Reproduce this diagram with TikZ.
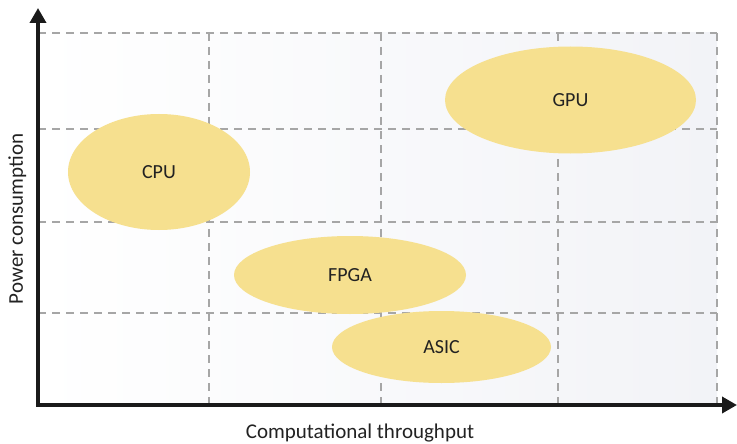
\documentclass[tikz,border=0pt]{standalone}
\usepackage{fontspec}
\setmainfont{Carlito}
\usetikzlibrary{shapes.geometric,arrows.meta}

\definecolor{chipfill}{RGB}{246,224,143}
\definecolor{gridgray}{RGB}{166,166,166}
\definecolor{axisblack}{RGB}{26,26,26}
\definecolor{panelright}{RGB}{242,243,247}
\definecolor{labeltext}{RGB}{34,34,34}

\tikzset{
  gridline/.style={draw=gridgray, line width=1.8pt, dash pattern=on 8pt off 6pt},
  axisline/.style={draw=axisblack, line width=3.6pt, line join=miter,
    -{Triangle[length=15pt,width=16pt]}},
  chip/.style={ellipse, fill=chipfill, draw=none, inner sep=0pt,
    text=labeltext, font=\fontsize{20}{24}\selectfont},
  axislabel/.style={text=labeltext, font=\fontsize{21}{25}\selectfont, inner sep=0pt},
}

\begin{document}
\begin{tikzpicture}[x=1pt,y=-1pt]
  \useasboundingbox (0,0) rectangle (737,444);

  % shaded plot panel
  \fill[left color=white, right color=panelright] (38,33) rectangle (717,405);

  % dashed grid
  \foreach \gy in {33,129,222,313}
    \draw[gridline] (38,\gy) -- (717,\gy);
  \foreach \gx in {209,381,558,717}
    \draw[gridline] (\gx,33) -- (\gx,405);

  % device regions
  \node[chip, minimum width=182pt, minimum height=116pt] (cpu)  at (159,172) {CPU};
  \node[chip, minimum width=251pt, minimum height=107pt] (gpu)  at (570.5,100) {GPU};
  \node[chip, minimum width=232pt, minimum height=78pt]  (fpga) at (350,275) {FPGA};
  \node[chip, minimum width=219pt, minimum height=72pt]  (asic) at (441.5,347) {ASIC};

  % axes
  \coordinate (origin) at (38,405);
  \coordinate (ytip) at (38,8);
  \coordinate (xtip) at (737,405);
  \draw[axisline] (origin) -- (ytip);
  \draw[axisline] (origin) -- (xtip);
  \fill[axisblack] (36.2,403.2) rectangle (39.8,406.8);

  % axis titles
  \node[axislabel, anchor=base] (xlabel) at (360,438) {Computational throughput};
  \node[axislabel, rotate=90, anchor=base] (ylabel) at (23,219) {Power consumption};
\end{tikzpicture}
\end{document}
